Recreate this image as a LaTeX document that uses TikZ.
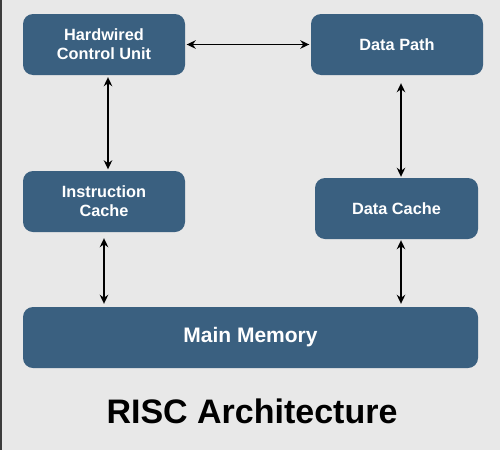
\documentclass[tikz,border=0pt]{standalone}
\usepackage{fontspec}
\setmainfont{Liberation Sans}
\usetikzlibrary{arrows.meta}
\definecolor{bg}{RGB}{232,232,232}
\definecolor{boxc}{RGB}{58,96,128}
\definecolor{edgec}{RGB}{60,60,60}
\begin{document}
\begin{tikzpicture}[x=1pt,y=-1pt,
  blk/.style={fill=boxc,rounded corners=10pt,text=white,font=\bfseries\fontsize{16.3}{19}\selectfont,
    align=center,inner sep=0pt,minimum height=61pt},
  arr/.style={line width=1.8pt,{Stealth[length=9pt,width=8.5pt]}-{Stealth[length=9pt,width=8.5pt]}}
]
\fill[bg] (0,0) rectangle (500,450);
\fill[edgec] (0,0) rectangle (1.5,450);
\useasboundingbox (0,0) rectangle (500,450);

\node[blk,minimum width=162pt] (hcu) at (104,44.5) {Hardwired\\Control Unit};
\node[blk,minimum width=172pt] (dp) at (397,44.5) {Data Path};
\node[blk,minimum width=162pt] (ic) at (104,201.5) {Instruction\\Cache};
\node[blk,minimum width=163pt] (dc) at (396.5,208.5) {Data Cache};
\node[blk,minimum width=455pt,font=\bfseries\fontsize{21}{24}\selectfont] (mm) at (250.5,337.5) {Main Memory};
\node[font=\bfseries\fontsize{34}{40}\selectfont,inner sep=0pt] (title) at (252,411) {RISC Architecture};

\draw[arr,shorten <=1.5pt,shorten >=1.5pt] (hcu.east) -- (dp.west);
\draw[arr,shorten <=2pt,shorten >=1.5pt] ([xshift=4pt]hcu.south) -- ([xshift=4pt]ic.north);
\draw[arr,shorten <=8pt,shorten >=1pt] ([xshift=4pt]dp.south) -- ([xshift=4.5pt]dc.north);
\draw[arr,shorten <=6pt,shorten >=3pt] (ic.south) -- (ic.south |- mm.north);
\draw[arr,shorten <=1pt,shorten >=3pt] ([xshift=4.5pt]dc.south) -- ([xshift=4.5pt]dc.south |- mm.north);
\end{tikzpicture}
\end{document}
